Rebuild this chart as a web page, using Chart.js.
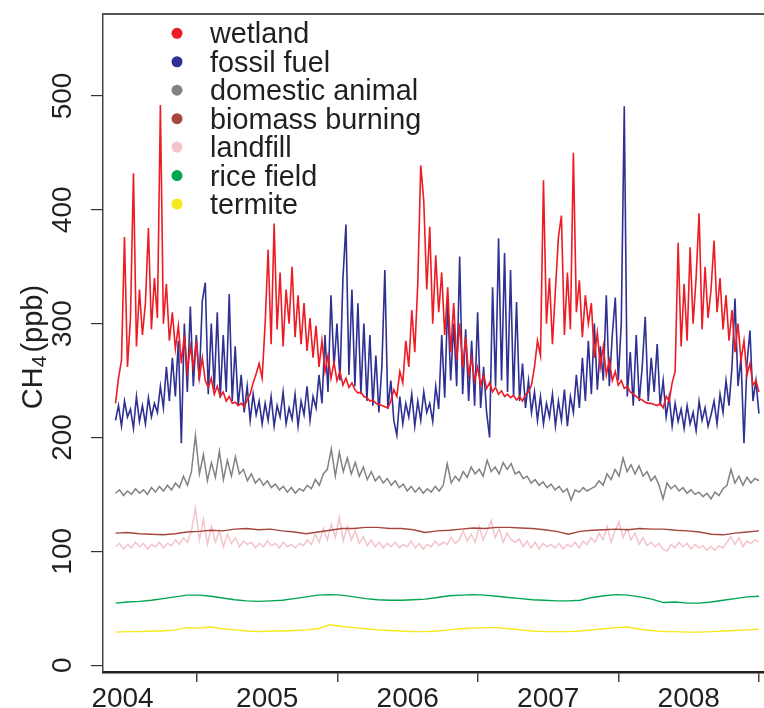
<!DOCTYPE html>
<html>
<head>
<meta charset="utf-8">
<script src="https://cdn.jsdelivr.net/npm/chart.js@4.4.1/dist/chart.umd.min.js"></script>
<style>
  body { margin: 0; background: #fff; }
  canvas { display: block; }
</style>
</head>
<body>
<canvas id="plotCH4" width="764" height="708"></canvas>
<script>
// year labels sit mid-year, tick marks at year boundaries
var yearLabels = ['2004', '2005', '2006', '2007', '2008'];
var labelPos = [2004.47, 2005.5, 2006.5, 2007.5, 2008.5];
var yearTicks = [2005, 2006, 2007, 2008, 2009];
var yTicks = [0, 100, 200, 300, 400, 500];

var seriesNames = ['wetland', 'fossil fuel', 'domestic animal', 'biomass burning', 'landfill', 'rice field', 'termite'];
var seriesColors = ['#ED1C24', '#2E3192', '#808285', '#A5473F', '#F4C3CB', '#00A651', '#F7E81C'];

// first and last sample time (decimal year), samples evenly spaced between
var START = 2004.42, END = 2009.0;

var wetland = [
  230,252,268,376,262,305,432,280,330,290,
  318,384,295,340,305,492,300,335,285,310,
  278,298,265,290,258,280,262,285,252,270,
  250,244,252,238,245,236,240,232,236,230,
  231,228,230,227,233,238,248,256,265,252,
  300,365,282,388,295,345,280,330,300,350,
  288,325,282,318,276,305,270,298,262,285,
  258,272,252,266,250,258,246,252,244,248,
  242,239,240,236,235,232,233,230,229,228,
  227,226,232,242,236,258,248,285,262,312,
  275,335,439,408,330,385,300,360,310,345,
  290,332,275,318,268,300,262,288,255,270,
  250,262,246,255,243,248,240,244,238,241,
  236,238,235,237,233,236,232,238,240,246,
  262,285,272,426,300,340,282,330,376,395,
  290,345,295,450,310,338,288,325,300,318,
  270,292,262,280,255,268,250,258,246,250,
  243,245,240,238,236,234,233,231,230,230,
  229,228,230,226,236,232,248,258,371,280,
  335,285,367,300,340,397,295,350,305,330,
  373,310,340,295,325,285,312,275,300,268,
  285,255,265,246,250,240
];
var fossilFuel = [
  215,228,210,232,218,225,208,236,214,228,
  212,235,218,230,222,245,226,262,232,270,
  236,285,195,300,240,315,245,290,250,320,
  336,238,300,242,310,235,290,240,326,232,
  280,228,255,222,245,215,238,220,232,212,
  230,215,236,210,228,218,240,212,226,216,
  238,210,232,220,245,215,236,226,255,230,
  290,240,325,262,300,250,340,387,255,330,
  245,318,238,300,232,290,228,272,222,262,
  347,225,250,215,202,236,212,230,218,238,
  210,232,215,240,222,230,214,245,225,290,
  235,320,250,300,245,359,238,295,232,285,
  228,310,226,262,222,200,332,245,375,250,
  362,240,347,236,319,232,265,226,250,222,
  240,215,236,212,230,218,238,210,232,215,
  242,210,236,222,255,226,270,232,285,238,
  300,242,280,250,325,245,290,323,250,300,
  491,236,275,228,290,232,262,306,232,270,
  240,282,228,250,218,236,210,230,214,225,
  208,228,212,222,206,232,215,226,210,220,
  232,212,238,222,250,228,262,322,245,270,
  195,265,294,232,250,221
];
var domesticAnimal = [
  151,154,149,153,150,155,151,154,150,156,
  152,157,153,158,154,160,156,166,158,170,
  202,168,185,162,178,165,188,163,180,166,
  183,168,172,162,168,160,164,158,162,156,
  159,154,157,152,156,151,155,153,158,155,
  163,158,168,172,190,166,187,170,182,168,
  178,166,174,163,170,162,166,160,164,158,
  162,156,159,153,157,152,156,151,155,152,
  157,153,158,177,160,166,162,170,165,174,
  168,172,166,180,170,174,168,178,172,177,
  168,170,164,166,160,163,158,161,156,159,
  154,157,152,155,145,154,152,156,153,155,
  157,162,158,168,163,172,166,182,170,176,
  168,175,166,170,162,166,158,146,160,155,
  158,153,156,151,154,150,152,148,151,146,
  152,149,155,158,172,160,166,158,165,160,
  164,162
];
var biomassBurning = [
  116,116.5,115.5,115,114.5,115.5,117,117.5,118.5,118,
  119.5,120,119,119.5,118,117,115.5,117,118.5,120,
  120,121,121,120,120,119,116.5,118,118.5,119.5,
  120.5,120,121,121,120.5,120,119,117.5,115,117.5,
  118.5,119,119.5,119,120,119.5,119.5,118.5,118,117,
  115,114.5,116,117,118
];
var landfill = [
  104,107,102,106,103,108,104,107,102,106,
  104,108,103,107,105,110,106,112,108,118,
  138,110,128,106,122,108,118,104,115,107,
  112,104,109,106,108,103,107,104,109,105,
  107,103,108,104,106,103,107,105,110,106,
  115,108,120,110,124,112,130,109,122,110,
  118,107,113,105,110,104,108,103,107,104,
  108,103,106,104,109,103,107,102,106,104,
  109,105,108,106,112,107,110,118,109,115,
  108,122,110,118,127,112,120,108,116,110,
  108,111,104,109,103,108,102,107,104,106,
  103,107,102,106,104,108,103,109,106,112,
  108,116,110,122,108,118,126,112,120,110,
  116,106,112,105,108,104,107,102,100,106,
  103,108,104,107,102,106,103,105,101,104,
  101,105,103,108,113,106,112,104,109,107,
  110,108
];
var riceField = [
  54.5,55.5,56,57,58.5,60,61.5,61.5,60.5,59,
  57.5,56.5,56,56.5,57,58.5,60,61.5,62,61.5,
  60,58.5,57.5,57,57,57.5,58,59.5,61,61.5,
  62,61.5,60.5,59.5,58.5,57.5,57,56.5,56.5,57,
  59.5,61,62,61.5,60,58,55,55.5,54.5,54.5,
  55.5,57,58.5,60,60.5
];
var termite = [
  29,29.5,29.5,30,30,31,33,32.5,33.5,32,
  31,30,29.5,30,30,30.5,31,32,35.5,34,
  33,32,31,30.5,30,29.5,29.5,30,31,32,
  32.5,33,33,32,31,30,29.5,29.5,29.5,30,
  31,32,33,33.5,31.5,30.5,29.5,29.5,29,29,
  29.5,30,30.5,31,31.5
];

var allSeries = [wetland, fossilFuel, domesticAnimal, biomassBurning, landfill, riceField, termite];
var lineWidths = [1.6, 1.6, 1.5, 1.4, 1.5, 1.4, 1.4];

function toPoints(vals) {
  var step = (END - START) / (vals.length - 1);
  return vals.map(function (v, i) { return { x: START + i * step, y: v }; });
}

Chart.defaults.font.family = "'Liberation Sans', Arial, sans-serif";
Chart.defaults.color = '#231F20';

var TEXT = '#231F20';

// box top line, rotated y labels, y title and the legend
var extras = {
  id: 'extras',
  afterDraw: function (chart) {
    var c = chart.ctx, area = chart.chartArea, ys = chart.scales.y;
    c.save();
    c.strokeStyle = '#555';
    c.lineWidth = 2;
    c.beginPath();
    c.moveTo(area.left, area.top);
    c.lineTo(area.right, area.top);
    c.stroke();

    c.fillStyle = TEXT;
    c.font = "28px 'Liberation Sans'";
    c.textAlign = 'center';
    c.textBaseline = 'middle';
    yTicks.forEach(function (v) {
      c.save();
      c.translate(63, ys.getPixelForValue(v));
      c.rotate(-Math.PI / 2);
      c.fillText(String(v), 0, 0);
      c.restore();
    });

    // CH4(ppb) with subscript
    c.save();
    c.translate(42, 347);
    c.rotate(-Math.PI / 2);
    c.textAlign = 'left';
    c.textBaseline = 'alphabetic';
    var big = "29px 'Liberation Sans'", small = "21px 'Liberation Sans'";
    c.font = big; var w1 = c.measureText('CH').width;
    c.font = small; var w2 = c.measureText('4').width;
    c.font = big; var w3 = c.measureText('(ppb)').width;
    var x0 = -(w1 + w2 + 3 + w3) / 2;
    c.font = big; c.fillText('CH', x0, 0);
    c.font = small; c.fillText('4', x0 + w1, 4);
    c.font = big; c.fillText('(ppb)', x0 + w1 + w2 + 3, 0);
    c.restore();

    c.font = "28.8px 'Liberation Sans'";
    c.textAlign = 'left';
    c.textBaseline = 'alphabetic';
    seriesNames.forEach(function (name, i) {
      var cy = 33.3 + i * 28.45;
      c.fillStyle = seriesColors[i];
      c.beginPath();
      c.arc(177, cy, 5.5, 0, 2 * Math.PI);
      c.fill();
      c.fillStyle = TEXT;
      c.fillText(name, 210, cy + 10);
    });
    c.restore();
  }
};

var ctx = document.getElementById('plotCH4').getContext('2d');
var myChart = new Chart(ctx, {
  type: 'line',
  data: {
    datasets: allSeries.map(function (vals, i) {
      return {
        label: seriesNames[i],
        data: toPoints(vals),
        borderColor: seriesColors[i],
        backgroundColor: seriesColors[i],
        borderWidth: lineWidths[i],
        borderJoinStyle: 'miter',
        radius: 0,
        tension: 0,
        fill: false
      };
    })
  },
  options: {
    responsive: false,
    animation: false,
    devicePixelRatio: 1,
    layout: { padding: { top: 14, left: 0, right: 0, bottom: 0 } },
    plugins: { legend: { display: false }, tooltip: { enabled: false } },
    scales: {
      x: {
        type: 'linear',
        min: 2004.331,
        max: 2009.036,
        afterBuildTicks: function (scale) {
          var vals = labelPos.concat(yearTicks).sort(function (a, b) { return a - b; });
          scale.ticks = vals.map(function (v) { return { value: v }; });
        },
        afterFit: function (scale) { scale.height = 36; },
        grid: {
          drawOnChartArea: false,
          drawTicks: true,
          tickLength: 10,
          lineWidth: 1.5,
          color: function (c) {
            return (c.tick && yearTicks.indexOf(c.tick.value) >= 0) ? '#444' : 'rgba(0,0,0,0)';
          }
        },
        border: { display: true, color: TEXT, width: 2.5 },
        ticks: {
          autoSkip: false,
          maxRotation: 0,
          padding: 0,
          color: TEXT,
          font: { size: 28 },
          callback: function (v) {
            var k = labelPos.indexOf(v);
            return k >= 0 ? yearLabels[k] : '';
          }
        }
      },
      y: {
        min: -6,
        max: 572,
        afterBuildTicks: function (scale) {
          scale.ticks = yTicks.map(function (v) { return { value: v }; });
        },
        afterFit: function (scale) { scale.width = 103; },
        grid: { drawOnChartArea: false, drawTicks: true, tickLength: 12, lineWidth: 1.2, color: '#333' },
        border: { display: true, color: '#444', width: 1.5 },
        ticks: { display: false }
      }
    }
  },
  plugins: [extras]
});
</script>
</body>
</html>
